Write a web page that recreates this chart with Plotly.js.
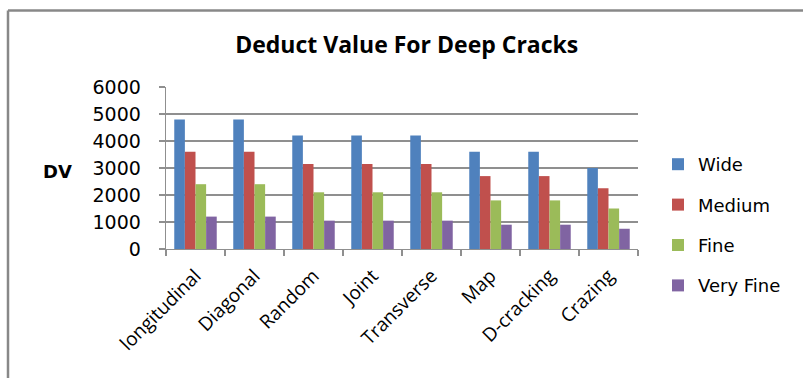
<!DOCTYPE html>
<html>
<head>
<meta charset="utf-8">
<script src="https://cdn.plot.ly/plotly-3.0.1.min.js"></script>
<style>
  html, body { margin: 0; padding: 0; background: #ffffff; }
  #chart { width: 803px; height: 378px; }
</style>
</head>
<body>
<div id="chart"></div>
<script>
// Deduct values per crack type, one series per crack width
const crackTypes = ["longitudinal", "Diagonal", "Random", "Joint", "Transverse", "Map", "D-cracking", "Crazing"];
const wideValues = [4800, 4800, 4200, 4200, 4200, 3600, 3600, 3000];
const mediumValues = [3600, 3600, 3150, 3150, 3150, 2700, 2700, 2250];
const fineValues = [2400, 2400, 2100, 2100, 2100, 1800, 1800, 1500];
const veryFineValues = [1200, 1200, 1050, 1050, 1050, 900, 900, 750];
const seriesNames = ["Wide", "Medium", "Fine", "Very Fine"];
const yTicks = [0, 1000, 2000, 3000, 4000, 5000, 6000];

const colors = ["#4F81BD", "#C0504D", "#9BBB59", "#8064A2"];
const seriesValues = [wideValues, mediumValues, fineValues, veryFineValues];

const W = 803, H = 378;
const margin = { l: 166, r: 165, t: 87, b: 129, pad: 0 };
const plotW = W - margin.l - margin.r;
const plotH = H - margin.t - margin.b;
// convert page pixels to paper coordinates
const px = x => (x - margin.l) / plotW;
const py = y => (H - margin.b - y) / plotH;

const gridGray = "#8f8f8f";
const frameGray = "#888888";

const traces = seriesNames.map((name, i) => ({
  type: "bar",
  name: name,
  x: crackTypes,
  y: seriesValues[i],
  legendgroup: name,
  marker: { color: colors[i], line: { width: 0 } },
  hoverinfo: "x+y+name"
}));

const layout = {
  width: W,
  height: H,
  margin: margin,
  paper_bgcolor: "#ffffff",
  plot_bgcolor: "#ffffff",
  barmode: "group",
  bargap: 0.28,
  bargroupgap: 0,
  title: {
    text: "Deduct Value For Deep Cracks",
    font: { family: "Open Sans", size: 23, color: "#000000", weight: "bold" },
    x: 0.51,
    xanchor: "center",
    xref: "paper",
    y: 1 - 45 / H,
    yanchor: "middle",
    yref: "container"
  },
  xaxis: {
    type: "category",
    tickson: "boundaries",
    ticks: "outside",
    ticklen: 6,
    tickwidth: 1.3,
    tickcolor: gridGray,
    showline: true,
    linecolor: gridGray,
    linewidth: 1.3,
    showgrid: false,
    tickangle: -45,
    ticklabelstandoff: 7,
    tickfont: { family: "Open Sans", size: 19, color: "#000000" },
    fixedrange: true
  },
  yaxis: {
    range: [0, 6000],
    tickvals: yTicks,
    ticktext: yTicks.map(String),
    ticks: "outside",
    ticklen: 6,
    tickwidth: 1.3,
    tickcolor: gridGray,
    showline: true,
    linecolor: gridGray,
    linewidth: 1.3,
    showgrid: true,
    gridcolor: gridGray,
    gridwidth: 1.3,
    zeroline: false,
    ticklabelstandoff: 14,
    tickfont: { family: "DejaVu Sans", size: 19, color: "#000000" },
    fixedrange: true
  },
  showlegend: true,
  legend: {
    x: px(658),
    xanchor: "left",
    y: py(225),
    yanchor: "middle",
    traceorder: "grouped",
    tracegroupgap: 14,
    font: { family: "DejaVu Sans", size: 18, color: "#000000" },
    bgcolor: "rgba(0,0,0,0)",
    borderwidth: 0
  },
  annotations: [{
    text: "DV",
    xref: "paper",
    yref: "paper",
    x: px(57),
    y: py(171),
    xanchor: "center",
    yanchor: "middle",
    showarrow: false,
    font: { family: "DejaVu Sans", size: 18, color: "#000000", weight: "bold" }
  }],
  shapes: [
    // outer chart frame: left and top edges
    { type: "line", xref: "paper", yref: "paper", x0: px(8), x1: px(8), y0: py(10.5), y1: py(H + 5),
      line: { color: frameGray, width: 2.5 } },
    { type: "line", xref: "paper", yref: "paper", x0: px(8), x1: px(W + 5), y0: py(10.5), y1: py(10.5),
      line: { color: frameGray, width: 2.5 } }
  ]
};

Plotly.newPlot("chart", traces, layout, { displayModeBar: false, staticPlot: true });
</script>
</body>
</html>
